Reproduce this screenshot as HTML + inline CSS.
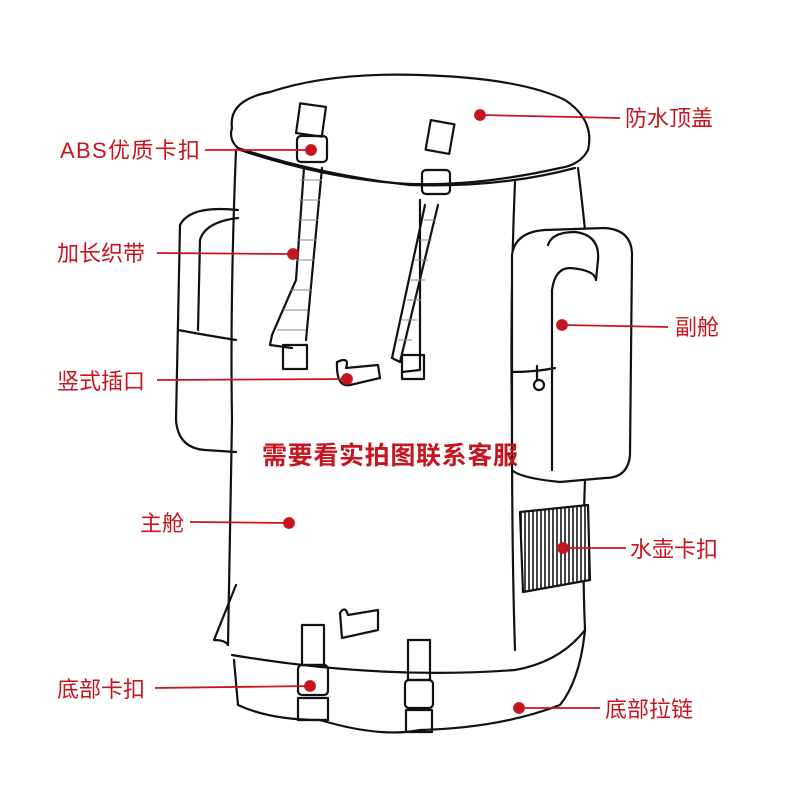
<!DOCTYPE html>
<html><head><meta charset="utf-8"><style>
html,body{margin:0;padding:0;background:#fff;}
svg{display:block;}
text{font-family:"Liberation Sans","Noto Sans CJK SC",sans-serif;fill:#c8141e;font-size:22px;}
</style></head><body>
<svg width="800" height="800" viewBox="0 0 800 800" xmlns="http://www.w3.org/2000/svg">
<defs><pattern id="h" width="4" height="4" patternUnits="userSpaceOnUse"><rect width="4" height="4" fill="#fff"/><rect width="2" height="4" fill="#444"/></pattern></defs>
<g fill="none" stroke="#111" stroke-width="2.2" stroke-linejoin="round" stroke-linecap="round">
<path d="M238 210 Q190 205 180 225 L176 420 Q178 448 205 450 L236 452"/>
<path d="M238 218 Q205 222 200 240 L198 330"/>
<path d="M178 330 Q205 335 236 340"/>
<path d="M232 128 Q228 100 270 92 Q330 72 420 75 Q520 78 565 100 Q595 120 588 150 Q580 165 560 168 Q480 186 410 184 Q330 180 240 150 Q228 140 232 128 Z" fill="#fff"/>
<path d="M238 148 Q320 175 410 185 Q500 188 575 168"/>
<path d="M236 150 Q230 300 232 420 Q230 560 228 645"/>
<path d="M228 645 Q225 640 214 640 L236 585"/>
<path d="M515 182 Q510 300 512 420 Q512 560 515 650"/>
<path d="M578 168 Q582 200 585 230"/>
<path d="M585 480 Q582 560 585 630"/>
<path d="M512 255 Q515 232 545 230 L605 228 Q632 230 632 255 L630 455 Q628 478 605 478 L560 482 Q520 478 512 470 Z" fill="#fff"/>
<path d="M548 245 Q552 232 575 232 Q600 235 598 260 L596 280 Q595 270 570 268 Q555 268 552 290 L552 470"/>
<path d="M512 372 Q535 372 555 368"/>
<circle cx="539" cy="385" r="5"/>
<path d="M537 366 L537 380"/>
<path d="M520 512 L588 505 L590 580 L523 592 Z" fill="url(#h)"/>
<path d="M304 168 L296 280 L272 335" />
<path d="M322 168 L306 340"/>
<path d="M272 335 L270 345 L292 348"/>
<path d="M425 205 L392 358 L400 362 L438 205"/>
<path d="M420 200 L420 370 L402 372"/>
<rect x="298" y="105" width="26" height="30" transform="rotate(8 311 120)"/>
<rect x="297" y="136" width="30" height="26" rx="4"/>
<rect x="428" y="122" width="24" height="30" transform="rotate(10 440 137)"/>
<rect x="422" y="170" width="28" height="24" rx="4"/>
<rect x="283" y="345" width="24" height="24"/>
<rect x="402" y="355" width="22" height="24"/>
<path d="M337 362 Q350 356 346 368 L378 365 L380 378 L350 385 Q336 388 337 362"/>
<path d="M340 613 Q345 605 348 615 L378 610 L378 630 L342 638 Z"/>
<path d="M232 655 Q380 680 515 670 Q560 662 585 630"/>
<path d="M234 660 L238 705 Q270 720 320 720 Q380 738 420 730 Q500 728 560 705 Q580 680 585 630"/>
<rect x="302" y="625" width="22" height="40"/>
<rect x="298" y="665" width="30" height="30" rx="4"/>
<rect x="298" y="698" width="30" height="22"/>
<rect x="408" y="640" width="22" height="40"/>
<rect x="405" y="680" width="28" height="28" rx="4"/>
<rect x="406" y="710" width="26" height="22"/>
</g>
<g stroke="#888" stroke-width="1">
<path d="M300 180 L322 180 M299 200 L320 200 M298 220 L318 220 M297 240 L316 240 M296 260 L314 260 M290 290 L312 290 M283 310 L308 310 M277 330 L306 330"/>
<path d="M424 220 L436 220 M420 240 L432 240 M415 260 L428 260 M411 280 L425 280 M407 300 L421 300 M402 320 L417 320 M398 340 L412 340"/>
</g>
<g fill="#c8141e" stroke="#c8141e" stroke-width="1.8">
<line x1="205" y1="150" x2="311" y2="150"/><circle cx="311" cy="150" r="5"/>
<line x1="480" y1="115" x2="620" y2="118"/><circle cx="480" cy="115" r="5"/>
<line x1="157" y1="253" x2="293" y2="254"/><circle cx="293" cy="254" r="5"/>
<line x1="562" y1="325" x2="668" y2="327"/><circle cx="562" cy="325" r="5"/>
<line x1="157" y1="380" x2="347" y2="379"/><circle cx="347" cy="379" r="5"/>
<line x1="190" y1="522" x2="289" y2="523"/><circle cx="289" cy="523" r="5"/>
<line x1="563" y1="548" x2="626" y2="548"/><circle cx="563" cy="548" r="5"/>
<line x1="155" y1="688" x2="310" y2="686"/><circle cx="310" cy="686" r="5"/>
<line x1="519" y1="708" x2="600" y2="708"/><circle cx="519" cy="708" r="5"/>
</g>
<text x="60" y="158" textLength="140">ABS优质卡扣</text>
<text x="625" y="126">防水顶盖</text>
<text x="57" y="261">加长织带</text>
<text x="675" y="335">副舱</text>
<text x="57" y="389">竖式插口</text>
<text x="140" y="531">主舱</text>
<text x="630" y="557">水壶卡扣</text>
<text x="57" y="697">底部卡扣</text>
<text x="605" y="717">底部拉链</text>
<text x="262" y="464" style="font-weight:bold;font-size:25px" textLength="256">需要看实拍图联系客服</text>
</svg>
</body></html>
